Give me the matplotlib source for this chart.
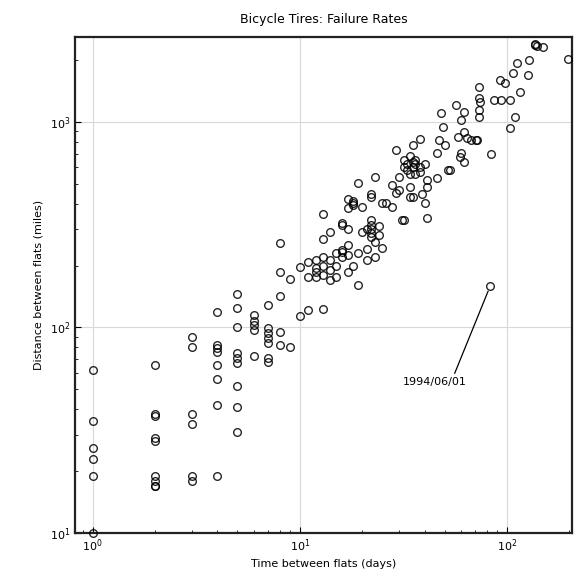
import matplotlib
matplotlib.use('Agg')
import matplotlib.pyplot as plt
import numpy as np

# time between flats (days) and distance between flats (miles)
days_cols = {
    1: [62, 35, 26, 23, 19, 10],
    2: [66, 37, 38, 28, 29, 19, 18, 17, 17],
    3: [90, 80, 38, 34, 19, 18],
    4: [119, 82, 79, 76, 66, 56, 42, 19],
    5: [146, 124, 100, 75, 71, 67, 52, 41, 31],
    6: [115, 108, 103, 97, 73],
    7: [129, 99, 94, 89, 84, 71, 68],
    8: [258, 186, 142, 95, 82],
    9: [172, 80],
    10: [197, 113],
    11: [208, 176, 122],
    12: [212, 195, 176, 185],
    13: [356, 270, 220, 200, 123, 180],
    14: [292, 212, 190, 170],
    15: [198, 230, 175],
    16: [315, 238, 220, 232, 323],
    17: [422, 380, 300, 252, 225, 185],
    18: [410, 395, 403, 200],
    19: [505, 230, 161],
    20: [386, 290],
    21: [212, 240, 300],
    22: [443, 432, 333, 315, 300, 288, 275],
    23: [540, 220, 260],
    24: [280, 310],
    25: [403, 244],
    26: [403],
    28: [494, 386],
    29: [731, 450],
    30: [540, 466],
    31: [333],
    32: [333, 600, 650],
    33: [620, 580],
    34: [480, 432, 560, 680],
    35: [773, 432, 600, 640],
    36: [560, 620, 650],
    38: [827, 600, 570],
    39: [443],
    40: [403, 620],
    41: [480, 341, 522],
    46: [533, 707],
    47: [817],
    48: [1107],
    49: [946],
    50: [773],
    52: [584],
    53: [584],
    57: [1211],
    58: [845],
    59: [676],
    60: [1023, 707],
    62: [1117, 893, 638],
    64: [838],
    67: [817],
    71: [817],
    72: [817],
    73: [1480, 1310, 1143, 1050],
    74: [1250],
    83: [159],
    84: [699],
    87: [1280],
    93: [1600],
    94: [1280],
    98: [1550],
    103: [1270, 933],
    107: [1730],
    109: [1058],
    112: [1937],
    116: [1400],
    126: [1690],
    128: [2000],
    137: [2370, 2400],
    140: [2330],
    150: [2300],
    197: [2028],
}

days = []
miles = []
for t, vals in days_cols.items():
    for v in vals:
        days.append(t)
        miles.append(v)
days = np.array(days)
miles = np.array(miles)

note_day = 83
note_miles = 159
note_text = '1994/06/01'

fig = plt.figure(figsize=(5.76, 5.75), dpi=100)
ax = fig.add_axes([0.130, 0.073, 0.863, 0.863])

ax.plot(days, miles, 'o', mfc='none', mec='black', ms=5.5, mew=1.0,
        alpha=0.85, clip_on=False, zorder=3)

ax.set_xscale('log')
ax.set_yscale('log')
ax.set_xlim(0.82, 206)
ax.set_ylim(10, 2590)

ax.grid(True, which='major', color='#d8d8d8', linewidth=0.8)
ax.set_axisbelow(True)
ax.tick_params(which='both', direction='in', labelsize=8)
ax.tick_params(which='major', length=4)
ax.tick_params(which='minor', length=2)
for s in ax.spines.values():
    s.set_linewidth(1.6)
    s.set_color('#222222')

ax.annotate(note_text, xy=(note_day, note_miles), xytext=(45, 54),
            fontsize=8, ha='center', va='center',
            arrowprops=dict(arrowstyle='-', color='black', lw=0.9,
                            relpos=(0.78, 1.0), shrinkA=1, shrinkB=4))

ax.set_title('Bicycle Tires: Failure Rates', fontsize=9, pad=10)
ax.set_xlabel('Time between flats (days)', fontsize=8, labelpad=3)
ax.set_ylabel('Distance between flats (miles)', fontsize=8, labelpad=4)

fig.savefig('out.png', dpi=100)
